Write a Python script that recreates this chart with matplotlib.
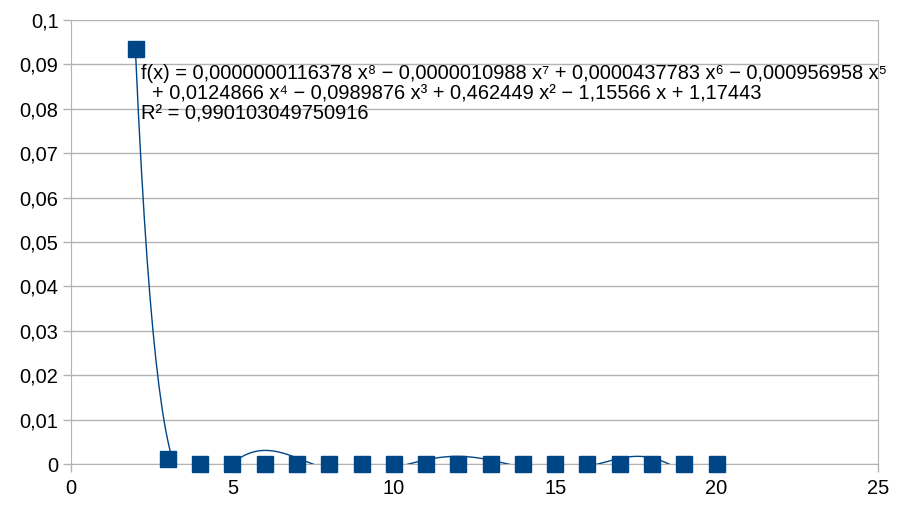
import numpy as np
import matplotlib.pyplot as plt

# data points
x_vals = [2, 3, 4, 5, 6, 7, 8, 9, 10, 11, 12, 13, 14, 15, 16, 17, 18, 19, 20]
y_vals = [0.0935, 0.0011, 0.00002, 0.00001, 0.00001, 0.00001, 0.0, 0.0, 0.0,
          0.0, 0.00001, 0.0, 0.0, 0.0, 0.0, 0.0, 0.00001, 0.0, 0.0]

x_ticks = [0, 5, 10, 15, 20, 25]
y_ticks = [0, 0.01, 0.02, 0.03, 0.04, 0.05, 0.06, 0.07, 0.08, 0.09, 0.1]

eq_text = ("f(x) = 0,0000000116378 x⁸ − 0,0000010988 x⁷ + 0,0000437783 x⁶ − 0,000956958 x⁵\n"
           "  + 0,0124866 x⁴ − 0,0989876 x³ + 0,462449 x² − 1,15566 x + 1,17443\n"
           "R² = 0,990103049750916")

plt.rcParams['font.family'] = ['Liberation Sans', 'DejaVu Sans']

x = np.array(x_vals, dtype=float)
y = np.array(y_vals)
coef = np.polyfit(x, y, 8)
xs = np.linspace(x.min(), x.max(), 400)
ys = np.polyval(coef, xs)

fig = plt.figure(figsize=(9.08, 5.11), dpi=100)
ax = fig.add_axes([71/908, 1-464/511, (878-71)/908, (464-20)/511])

grid_col = '#b3b3b3'
ax.plot(xs, ys, color='#004586', lw=1.0, zorder=3)
ax.plot(x, y, 's', color='#004586', ms=11, zorder=4, clip_on=False)

ax.set_xlim(0, 25)
ax.set_ylim(0, 0.1)
ax.set_xticks(x_ticks)
ax.set_yticks(y_ticks)
ax.set_xticklabels([str(v) for v in x_ticks])
ax.set_yticklabels([('%g' % v).replace('.', ',') for v in y_ticks])
ax.yaxis.grid(True, color=grid_col, lw=1)
ax.set_axisbelow(True)
for s in ['left', 'bottom', 'right']:
    ax.spines[s].set_color(grid_col)
ax.spines['top'].set_visible(False)
ax.tick_params(axis='both', colors=grid_col, labelcolor='black', labelsize=14.4,
               length=6, width=1)
ax.tick_params(axis='x', pad=5)
ax.tick_params(axis='y', pad=3)

ax.text(141/908, 1-94/511, eq_text, transform=fig.transFigure, fontsize=14.4,
        va='center', ha='left', linespacing=1.08)

plt.savefig("out.png", dpi=100)
